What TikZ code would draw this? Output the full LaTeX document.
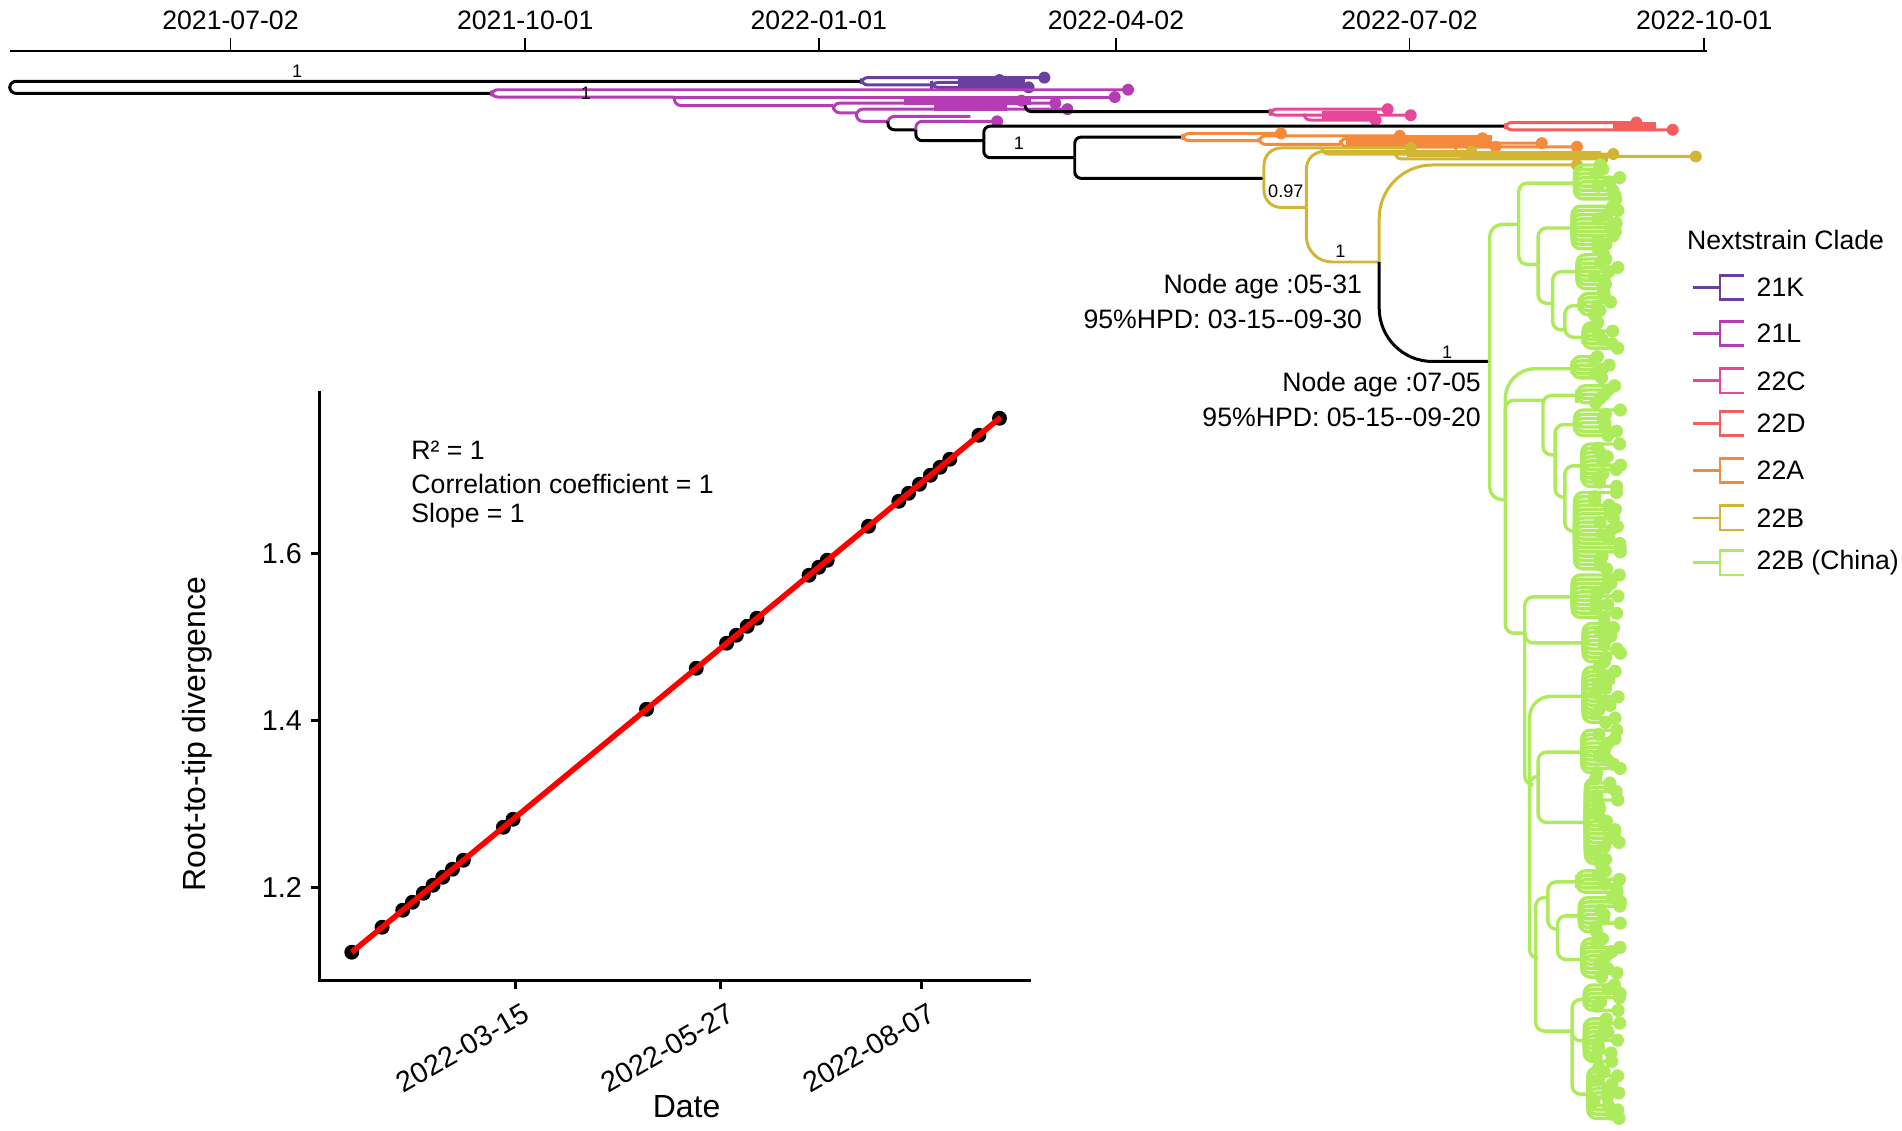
\documentclass[tikz,border=0pt]{standalone}
\usepackage{fontspec}
\setmainfont{Liberation Sans}[Ligatures=TeXOff]
\definecolor{c21K}{HTML}{6B3FA0}
\definecolor{c21L}{HTML}{B43DB5}
\definecolor{c22C}{HTML}{E8469B}
\definecolor{c22D}{HTML}{F65E5E}
\definecolor{c22A}{HTML}{F68A3C}
\definecolor{c22B}{HTML}{D2B532}
\definecolor{cChina}{HTML}{ADEB5C}
\tikzset{branch/.style={line width=1.4pt,rounded corners=3pt},
  gedge/.style={branch,cChina,line width=1.6pt,rounded corners=4pt}}
\newcommand{\tipdot}[2]{\fill[#1] (#2) circle[radius=2.8pt];}
\newcommand{\gfan}[4]{%
  \pgfmathsetmacro\fanmid{(#3+#4)/2}
  \coordinate (#1) at (#2,\fanmid);
  \pgfmathtruncatemacro\fann{(#4-#3)/3.5}
  \foreach \k in {0,...,\fann}{
    \pgfmathsetmacro\ty{#3+3.5*\k}
    \pgfmathsetmacro\tx{1314+22*rnd}
    \draw[gedge] (#1) |- (\tx,\ty);
    \fill[cChina] (\tx,\ty) circle[radius=3.1pt];
  }}
\begin{document}
\begin{tikzpicture}[x=0.02cm,y=-0.02cm,
  lab/.style={font=\fontsize{12.5}{14}\selectfont},
  tk/.style={font=\fontsize{13.5}{15}\selectfont},
  ttl/.style={font=\fontsize{15}{17}\selectfont},
  supp/.style={font=\fontsize{8.5}{10}\selectfont,inner sep=1pt},
  lump/.style={line width=4pt}]
\useasboundingbox (0,0) rectangle (1568,932);
\pgfmathsetseed{42}

\draw[line width=0.9pt] (8,42) -- (1407,42);
\foreach \x/\d [count=\i] in {190/2021-07-02,433/2021-10-01,675/2022-01-01,920/2022-04-02,1162/2022-07-02,1405/2022-10-01}{
  \draw[line width=0.9pt] (\x,42) -- (\x,31);
  \node[lab] (date\i) at (\x,17) {\d};
}

\coordinate (root) at (8,72);
\coordinate (k0) at (710,67);
\coordinate (k1) at (768,70);
\coordinate (l0) at (405,77);
\coordinate (l1) at (556,80);
\coordinate (l2) at (687,87);
\coordinate (l3) at (706,93);
\coordinate (l4) at (732,100);
\coordinate (l5) at (755,107);
\coordinate (l6) at (811,116);
\coordinate (l7) at (886,130);
\coordinate (c0) at (1047,92);
\coordinate (d0) at (1241,104);
\coordinate (a0) at (975,113);
\coordinate (g0) at (1042,147);
\coordinate (g1) at (1077,171);
\coordinate (g2) at (1137,216);
\coordinate (n0) at (1228,298);

\draw[branch] (root) |- (k0);
\draw[branch] (root) |- (l0);
\node[supp] (s1) at (245,59) {1};

\draw[lump,c21K] (790,67) -- (845,67);
\draw[branch,c21K] (k0) |- (861,64);
\draw[branch,c21K] (k0) |- (k1);
\draw[branch,c21K] (k1) |- (848,72);
\draw[branch,c21K] (k1) |- (835,68);
\tipdot{c21K}{861,64} \tipdot{c21K}{848,72} \tipdot{c21K}{824,66}

\draw[lump,c21L] (745,83) -- (850,83);
\draw[lump,c21L] (770,88) -- (830,88);
\draw[branch,c21L] (l0) |- (930,74);
\draw[branch,c21L] (l0) |- (l1);
\draw[branch,c21L] (l1) -- (919,80);
\draw[branch,c21L] (l1) |- (l2);
\draw[branch,c21L] (l2) |- (870,85);
\draw[branch,c21L] (l2) |- (l3);
\draw[branch,c21L] (l3) |- (880,90);
\draw[branch,c21L] (l3) |- (l4);
\draw[branch,c21L] (l4) |- (800,96);
\draw[branch] (l4) |- (l5);
\draw[branch,c21L] (l5) |- (822,100);
\draw[branch] (l5) |- (l6);
\node[supp] (s2) at (483,77) {1};
\tipdot{c21L}{930,74} \tipdot{c21L}{919,80} \tipdot{c21L}{880,90}
\tipdot{c21L}{822,100} \tipdot{c21L}{870,85} \tipdot{c21L}{842,83}

\draw[branch] (845,87) |- (c0);
\draw[lump,c22C] (1090,95) -- (1135,95);
\draw[branch,c22C] (c0) |- (1144,90);
\draw[branch,c22C] (c0) |- (1163,95);
\draw[branch,c22C] (1075,95) |- (1134,99);
\tipdot{c22C}{1144,90} \tipdot{c22C}{1163,95} \tipdot{c22C}{1134,99}

\draw[branch] (l6) |- (d0);
\node[supp] (s3) at (840,118) {1};
\draw[lump,c22D] (1330,104) -- (1365,104);
\draw[branch,c22D] (d0) |- (1349,101);
\draw[branch,c22D] (d0) |- (1379,107);
\tipdot{c22D}{1349,101} \tipdot{c22D}{1379,107}

\draw[branch] (l6) |- (l7);
\draw[branch] (l7) |- (a0);
\draw[c22A,line width=5pt] (1110,116) -- (1230,116);
\draw[branch,c22A] (a0) |- (1056,110);
\draw[branch,c22A] (a0) |- (1038,116);
\draw[branch,c22A] (1038,116) |- (1154,112);
\draw[branch,c22A] (1038,116) |- (1105,119);
\draw[branch,c22A] (1105,119) |- (1222,114);
\draw[branch,c22A] (1105,119) |- (1300,121);
\draw[branch,c22A] (1150,119) |- (1233,121);
\draw[branch,c22A] (1200,119) |- (1271,118);
\tipdot{c22A}{1056,110} \tipdot{c22A}{1154,112} \tipdot{c22A}{1222,114}
\tipdot{c22A}{1233,121} \tipdot{c22A}{1271,118} \tipdot{c22A}{1300,121}

\draw[branch] (l7) |- (g0);
\draw[c22B,line width=3pt] (1160,127) -- (1320,127);
\draw[branch,c22B,rounded corners=8pt] (g0) |- (1163,122);
\draw[branch,c22B,rounded corners=8pt] (g0) |- (g1);
\node[supp] (s4) at (1060,158) {0.97};
\draw[branch,c22B,rounded corners=8pt] (g1) |- (1213,125);
\draw[branch,c22B] (1090,125) |- (1330,127);
\draw[branch,c22B] (1200,127) |- (1398,129);
\draw[branch,c22B] (1150,127) |- (1321,131);
\draw[branch,c22B,rounded corners=12pt] (g1) |- (g2);
\node[supp] (s5) at (1105,207) {1};
\draw[branch,c22B,rounded corners=25pt] (g2) |- (1300,136);
\draw[branch,rounded corners=25pt] (g2) |- (n0);
\node[supp] (s6) at (1193,290) {1};
\tipdot{c22B}{1163,122} \tipdot{c22B}{1213,125} \tipdot{c22B}{1330,127}
\tipdot{c22B}{1398,129} \tipdot{c22B}{1300,136} \tipdot{c22B}{1321,131}

\node[lab,anchor=east] (age1) at (1129,236) {Node age :05-31};
\node[lab,anchor=east] (hpd1) at (1129,263) {95\%HPD: 03-15--09-30};
\node[lab,anchor=east] (age2) at (1227,317) {Node age :07-05};
\node[lab,anchor=east] (hpd2) at (1227,344) {95\%HPD: 05-15--09-20};

\coordinate (gA) at (1252,185);
\coordinate (gB) at (1241,412);
\coordinate (gA2) at (1268,218);
\coordinate (gA3) at (1280,250);
\coordinate (gA4) at (1290,272);
\coordinate (gB2) at (1272,330);
\coordinate (gB3) at (1282,375);
\coordinate (gB4) at (1290,410);
\coordinate (gC) at (1257,522);
\coordinate (gD) at (1261,647);
\coordinate (gD2) at (1268,640);
\coordinate (gE) at (1266,790);
\coordinate (gE1) at (1276,740);
\coordinate (gE1b) at (1284,766);
\coordinate (gE2) at (1296,850);

\gfan{f1}{1298}{136}{166}
\gfan{f2}{1296}{170}{206}
\gfan{f3}{1300}{210}{238}
\gfan{f4}{1302}{242}{262}
\gfan{f5}{1305}{266}{290}
\gfan{f6}{1296}{294}{314}
\gfan{f7}{1300}{318}{334}
\gfan{f8}{1298}{338}{362}
\gfan{f9}{1304}{366}{402}
\gfan{f10}{1298}{406}{470}
\gfan{f11}{1296}{474}{510}
\gfan{f12}{1305}{514}{546}
\gfan{f13}{1305}{550}{598}
\gfan{f14}{1304}{602}{638}
\gfan{f15}{1307}{642}{714}
\gfan{f16}{1300}{718}{736}
\gfan{f17}{1302}{740}{770}
\gfan{f18}{1304}{774}{808}
\gfan{f19}{1306}{812}{836}
\gfan{f20}{1306}{840}{876}
\gfan{f21}{1309}{880}{924}

\draw[gedge,rounded corners=6pt] (n0) |- (gA);
\draw[gedge,rounded corners=6pt] (n0) |- (gB);
\draw[gedge] (gA) |- (f1);
\draw[gedge] (gA) |- (gA2);
\draw[gedge] (gA2) |- (f2);
\draw[gedge] (gA2) |- (gA3);
\draw[gedge] (gA3) |- (f3);
\draw[gedge] (gA3) |- (gA4);
\draw[gedge] (gA4) |- (f4);
\draw[gedge] (gA4) |- (f5);
\draw[gedge,rounded corners=14pt] (gB) |- (f6);
\draw[gedge] (gB) |- (gB2);
\draw[gedge] (gB) |- (gC);
\draw[gedge] (gB2) |- (f7);
\draw[gedge] (gB2) |- (gB3);
\draw[gedge] (gB3) |- (f8);
\draw[gedge] (gB3) |- (gB4);
\draw[gedge] (gB4) |- (f9);
\draw[gedge] (gB4) |- (f10);
\draw[gedge] (gC) |- (f11);
\draw[gedge] (gC) |- (f12);
\draw[gedge] (gC) |- (gD);
\draw[gedge,rounded corners=10pt] (gD) |- (f13);
\draw[gedge] (gD) |- (gD2);
\draw[gedge] (gD) |- (gE);
\draw[gedge] (gD2) |- (f14);
\draw[gedge] (gD2) |- (f15);
\draw[gedge] (gE) |- (gE1);
\draw[gedge] (gE) |- (gE2);
\draw[gedge] (gE1) |- (f16);
\draw[gedge] (gE1) |- (gE1b);
\draw[gedge] (gE1b) |- (f17);
\draw[gedge] (gE1b) |- (f18);
\draw[gedge] (gE2) |- (f19);
\draw[gedge] (gE2) |- (f20);
\draw[gedge] (gE2) |- (f21);

\node[lab] (legtitle) at (1472,198) {Nextstrain Clade};
\foreach \y/\c/\t [count=\i] in {237/c21K/21K,275/c21L/21L,314/c22C/22C,349/c22D/22D,388/c22A/22A,427/c22B/22B,464/cChina/22B (China)}{
  \draw[\c,line width=1.3pt] (1396,\y) -- (1418,\y);
  \draw[\c,line width=1.3pt] (1438,\y-10) -| (1418,\y+10) -- (1438,\y+10);
  \node[lab,anchor=west] (leg\i) at (1442,\y) {\t};
}

\draw[line width=1.4pt] (263,322) -- (263,808) -- (850,808);
\foreach \y/\l [count=\i] in {456/1.6,594/1.4,732/1.2}{
  \draw[line width=1.4pt] (256,\y) -- (263,\y);
  \node[tk,anchor=east] (ytick\i) at (255,\y) {\l};
}
\foreach \x/\l [count=\i] in {425/2022-03-15,594/2022-05-27,760/2022-08-07}{
  \draw[line width=1.4pt] (\x,808) -- (\x,815);
  \node[tk,rotate=30,anchor=north east] (xtick\i) at (\x+7,818) {\l};
}
\node[ttl] (xlab) at (566,912) {Date};
\node[ttl,rotate=90] (ylab) at (163,605) {Root-to-tip divergence};
\node[lab,anchor=west] (r2) at (333,371) {R² = 1};
\node[lab,anchor=west] (cc) at (333,399) {Correlation coefficient = 1};
\node[lab,anchor=west] (sl) at (333,425) {Slope = 1};
\foreach \x in {290,315,332,340,349,357,365,373,382,415,423,533,574,599,607,616,624,667,675,682,716,741,749,758,767,775,783,807,824}{
  \pgfmathsetmacro\yy{785-0.8243*(\x-290)}
  \fill (\x,\yy) circle[radius=3.5pt];
}
\draw[red,line width=2.6pt] (290,785) -- (825,344);
\end{tikzpicture}
\end{document}
